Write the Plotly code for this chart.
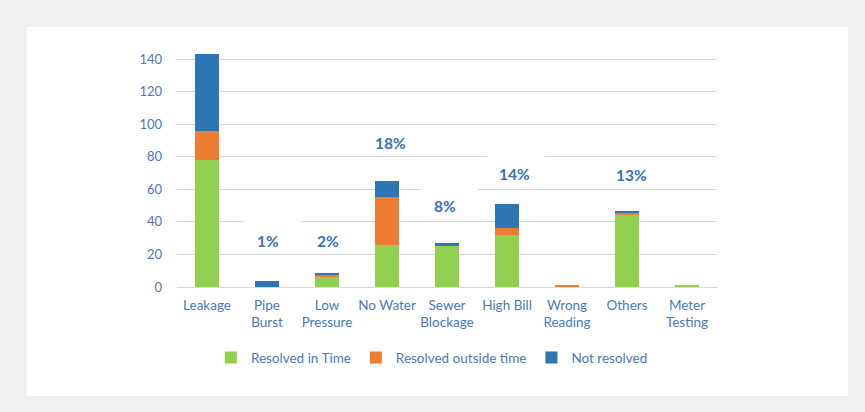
import plotly.graph_objects as go

categories = ["Leakage", "Pipe<br>Burst", "Low<br>Pressure", "No Water", "Sewer<br>Blockage",
              "High Bill", "Wrong<br>Reading", "Others", "Meter<br>Testing"]
resolved_in_time = [78, 0, 6.5, 26, 25, 32, 0, 44.5, 1]
resolved_outside = [18, 0, 1, 29, 0, 4, 1, 1, 0]
not_resolved = [47, 3.5, 0.6, 10, 2, 15, 0, 1.5, 0]
y_ticks = [0, 20, 40, 60, 80, 100, 120, 140]

pct_labels = ["1%", "2%", "18%", "8%", "14%", "13%"]
pct_x = [1.02, 2.02, 3.06, 3.96, 5.12, 7.08]
pct_y = [28.4, 28.4, 88.2, 49.7, 69.4, 68.8]

# white boxes behind some labels that interrupt the gridlines (x0, x1, y0, y1)
label_boxes = [(0.61, 1.58, 24, 42), (3.57, 4.52, 45, 62), (4.67, 5.63, 65, 82)]

FONT = "Lato"
TXT = "#4a7ab5"
x_idx = list(range(len(categories)))

fig = go.Figure()
fig.add_bar(x=x_idx, y=resolved_in_time, name="Resolved in Time", marker_color="#92d050",
            marker_line_width=0)
fig.add_bar(x=x_idx, y=resolved_outside, name="Resolved outside time", marker_color="#ed7d31",
            marker_line_width=0)
fig.add_bar(x=x_idx, y=not_resolved, name="Not resolved", marker_color="#2e75b6",
            marker_line_width=0)

shapes = [dict(type="rect", xref="paper", yref="paper", x0=-0.2778, x1=1.2426, y0=-0.4619, y1=1.1017,
               fillcolor="white", line_width=0, layer="below")]
for (a, b, c, d) in label_boxes:
    shapes.append(dict(type="rect", xref="x", yref="y", x0=a, x1=b, y0=c, y1=d,
                       fillcolor="white", line_width=0, layer="between"))

annotations = []
for t, xx, yy in zip(pct_labels, pct_x, pct_y):
    annotations.append(dict(x=xx, y=yy, text="<b>%s</b>" % t, showarrow=False,
                            font=dict(family=FONT, size=15.5, color="#3a72b5"),
                            xanchor="center", yanchor="middle"))

fig.update_layout(
    width=865, height=412,
    margin=dict(l=177, r=148, t=51, b=125),
    paper_bgcolor="#f0f0f0", plot_bgcolor="white",
    barmode="stack", bargap=0.6,
    font=dict(family=FONT, size=13, color=TXT),
    shapes=shapes, annotations=annotations,
    legend=dict(orientation="h", x=0.472, y=-0.30, xanchor="center", yanchor="middle",
                font=dict(family=FONT, size=13.5, color=TXT), bgcolor="rgba(0,0,0,0)",
                itemwidth=30, traceorder="normal"),
    showlegend=True,
)
fig.update_xaxes(tickmode="array", tickvals=x_idx, ticktext=categories, range=[-0.5, 8.5],
                 showgrid=False, showline=False, ticks="", ticklabelstandoff=8,
                 tickfont=dict(size=13.5, color=TXT))
fig.update_yaxes(range=[0, 145], tickvals=y_ticks, showgrid=True, gridcolor="#d9d9d9", gridwidth=1,
                 zeroline=True, zerolinecolor="#d9d9d9", zerolinewidth=1, showline=False,
                 ticks="", ticklabelstandoff=14, tickfont=dict(size=13, color=TXT))

fig.write_html("out.html")
